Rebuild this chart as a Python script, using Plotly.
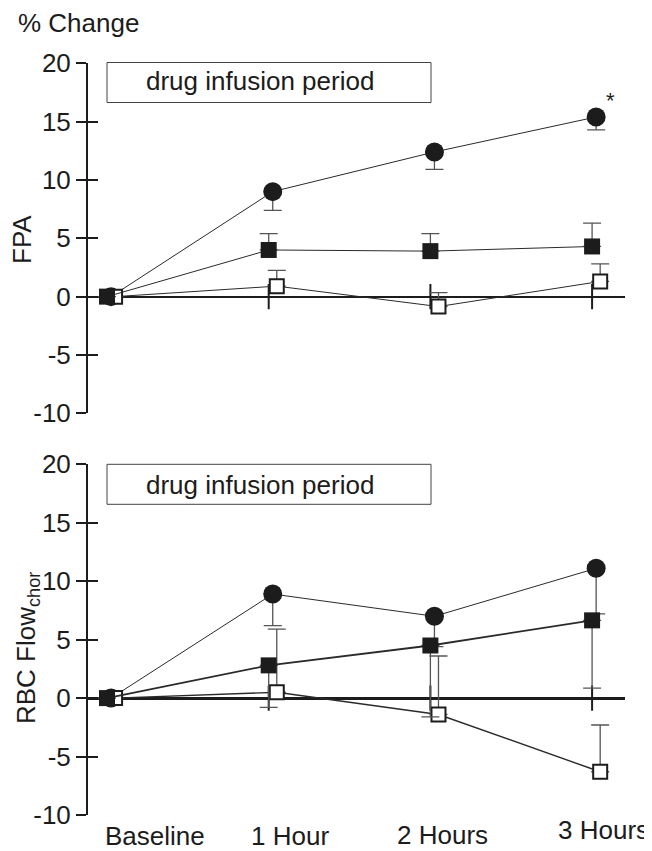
import plotly.graph_objects as go

# ---------------- data ----------------
time_labels = ["Baseline", "1 Hour", "2 Hours", "3 Hours"]
time_index = [0, 1, 2, 3]
y_ticks = [-10, -5, 0, 5, 10, 15, 20]

# FPA panel (% change); error bars: circles down, squares up
fpa_circle = [0, 9.0, 12.4, 15.4]
fpa_circle_se = [0, 1.6, 1.5, 1.1]
fpa_filled = [0, 4.0, 3.9, 4.3]
fpa_filled_se = [0, 1.4, 1.5, 2.0]
fpa_open = [0, 0.9, -0.85, 1.3]
fpa_open_se = [0, 1.35, 1.2, 1.5]

# RBC Flow_chor panel (% change); error bars: circles & filled down, open up
rbc_circle = [0, 8.9, 7.0, 11.1]
rbc_circle_se = [0, 2.7, 2.6, 3.9]
rbc_filled = [0, 2.8, 4.5, 6.65]
rbc_filled_se = [0, 3.6, 6.1, 5.8]
rbc_open = [0, 0.5, -1.4, -6.3]
rbc_open_se = [0, 5.4, 5.0, 4.0]

# ---------------- styling ----------------
PAGE_OFF = 8            # default body margin of the html page
W, H = 652 - PAGE_OFF, 851 - PAGE_OFF
FONT = "Liberation Sans, Arial, sans-serif"
INK = "#1c1c1c"


def px_x(p):
    return (p - PAGE_OFF) / W


def px_y(p):
    return 1 - (p - PAGE_OFF) / H


x_dom = [px_x(88), px_x(625)]
top_dom = [px_y(413.3), px_y(63.3)]
bot_dom = [px_y(815), px_y(464.3)]
x_range = [-0.1175, 3.2035]

dodge = {"circle": 0.025, "filled": 0.0, "open": 0.05}


def err(se, direction):
    zeros = [0] * len(se)
    d = dict(type="data", symmetric=False, color="#555555", thickness=1.3, width=9)
    if direction == "down":
        d.update(array=zeros, arrayminus=se)
    else:
        d.update(array=se, arrayminus=zeros)
    return d


def series(xs, ys, se, kind, direction, xa, ya, lw=1):
    xs_d = [x + dodge[kind] for x in xs]
    if kind == "circle":
        marker = dict(symbol="circle", size=19, color=INK, line=dict(width=0))
    elif kind == "filled":
        marker = dict(symbol="square", size=16, color=INK, line=dict(width=0))
    else:
        marker = dict(symbol="square", size=14, color="white", line=dict(width=2, color=INK))
    return go.Scatter(
        x=xs_d, y=ys, mode="lines+markers", marker=marker,
        line=dict(color="#2a2a2a", width=lw), error_y=err(se, direction),
        xaxis=xa, yaxis=ya, showlegend=False, cliponaxis=False, hoverinfo="skip",
    )


def zero_ticks(xa, ya):
    return go.Scatter(
        x=time_index[1:], y=[0] * len(time_index[1:]), mode="markers",
        marker=dict(symbol="line-ns", size=18, line=dict(width=2, color=INK)),
        xaxis=xa, yaxis=ya, showlegend=False, hoverinfo="skip", cliponaxis=False,
    )


fig = go.Figure()
# top panel
fig.add_trace(zero_ticks("x", "y"))
fig.add_trace(series(time_index, fpa_circle, fpa_circle_se, "circle", "down", "x", "y"))
fig.add_trace(series(time_index, fpa_open, fpa_open_se, "open", "up", "x", "y"))
fig.add_trace(series(time_index, fpa_filled, fpa_filled_se, "filled", "up", "x", "y"))
# bottom panel
fig.add_trace(zero_ticks("x2", "y2"))
fig.add_trace(series(time_index, rbc_circle, rbc_circle_se, "circle", "down", "x2", "y2"))
fig.add_trace(series(time_index, rbc_open, rbc_open_se, "open", "up", "x2", "y2", lw=1.4))
fig.add_trace(series(time_index, rbc_filled, rbc_filled_se, "filled", "down", "x2", "y2", lw=1.8))
# empty traces for inner-tick overlay axes
fig.add_trace(go.Scatter(x=[], y=[], xaxis="x", yaxis="y3", showlegend=False))
fig.add_trace(go.Scatter(x=[], y=[], xaxis="x2", yaxis="y4", showlegend=False))

yax_common = dict(
    range=[-10, 20], tickmode="array", tickvals=y_ticks, ticktext=[str(v) for v in y_ticks],
    ticks="outside", ticklen=10, tickwidth=2, tickcolor=INK,
    showline=True, linewidth=2, linecolor=INK, showgrid=False,
    zeroline=True, zerolinecolor=INK,
    tickfont=dict(family=FONT, size=26, color=INK), fixedrange=True, automargin=False,
)
yax_inner = dict(
    range=[-10, 20], tickmode="array", tickvals=y_ticks, ticks="inside", ticklen=10,
    tickwidth=2, tickcolor=INK, showticklabels=False, showline=False, showgrid=False,
    zeroline=False, fixedrange=True, automargin=False,
)
xax_common = dict(range=x_range, visible=False, showgrid=False, zeroline=False,
                  fixedrange=True, automargin=False)

fig.update_layout(
    width=W, height=H, margin=dict(l=0, r=0, t=0, b=0, autoexpand=False),
    paper_bgcolor="white", plot_bgcolor="white",
    font=dict(family=FONT, size=26, color=INK),
    xaxis=dict(domain=x_dom, anchor="y", **xax_common),
    xaxis2=dict(domain=x_dom, anchor="y2", **xax_common),
    yaxis=dict(domain=top_dom, anchor="x", zerolinewidth=2, **yax_common),
    yaxis2=dict(domain=bot_dom, anchor="x2", zerolinewidth=2.6, **yax_common),
    yaxis3=dict(overlaying="y", anchor="x", **yax_inner),
    yaxis4=dict(overlaying="y2", anchor="x2", **yax_inner),
)

ann = []
ann.append(dict(text="% Change", xref="paper", yref="paper", x=px_x(17), y=px_y(23),
                xanchor="left", yanchor="middle", showarrow=False, borderpad=0, font=dict(size=26)))
ann.append(dict(text="FPA", xref="paper", yref="paper", x=px_x(22), y=px_y(240),
                xanchor="center", yanchor="middle", textangle=-90, showarrow=False, font=dict(size=26)))
ann.append(dict(text="RBC Flow<sub>chor</sub>", xref="paper", yref="paper", x=px_x(27), y=px_y(648),
                xanchor="center", yanchor="middle", textangle=-90, showarrow=False, font=dict(size=26)))

# drug infusion period boxes
shapes = []
for top_px, text_px in [(62.5, 81), (464.3, 485)]:
    shapes.append(dict(type="rect", xref="paper", yref="paper",
                       x0=px_x(107), x1=px_x(431), y0=px_y(top_px + 40), y1=px_y(top_px),
                       line=dict(color="#444444", width=1), fillcolor="white", layer="below"))
    ann.append(dict(text="drug infusion period", xref="paper", yref="paper", x=px_x(144), y=px_y(text_px),
                    xanchor="left", yanchor="middle", showarrow=False, font=dict(size=26)))

# significance asterisk on the last FPA circle
ann.append(dict(text="*", xref="x", yref="y", x=time_index[3] + dodge["circle"], y=fpa_circle[3],
                xshift=14, yshift=16, xanchor="center", yanchor="middle", showarrow=False,
                font=dict(size=22)))

# x category labels below the bottom panel
label_xshift = [48, 21, 12, 11]
label_ypx = [836, 836, 835, 830]
for i, lab in enumerate(time_labels):
    ann.append(dict(text=lab, xref="x2", yref="paper", x=time_index[i], y=px_y(label_ypx[i]),
                    xshift=label_xshift[i], xanchor="center", yanchor="middle", showarrow=False,
                    borderpad=0, font=dict(size=26)))

fig.update_layout(annotations=ann, shapes=shapes)
fig.write_html("out.html")
